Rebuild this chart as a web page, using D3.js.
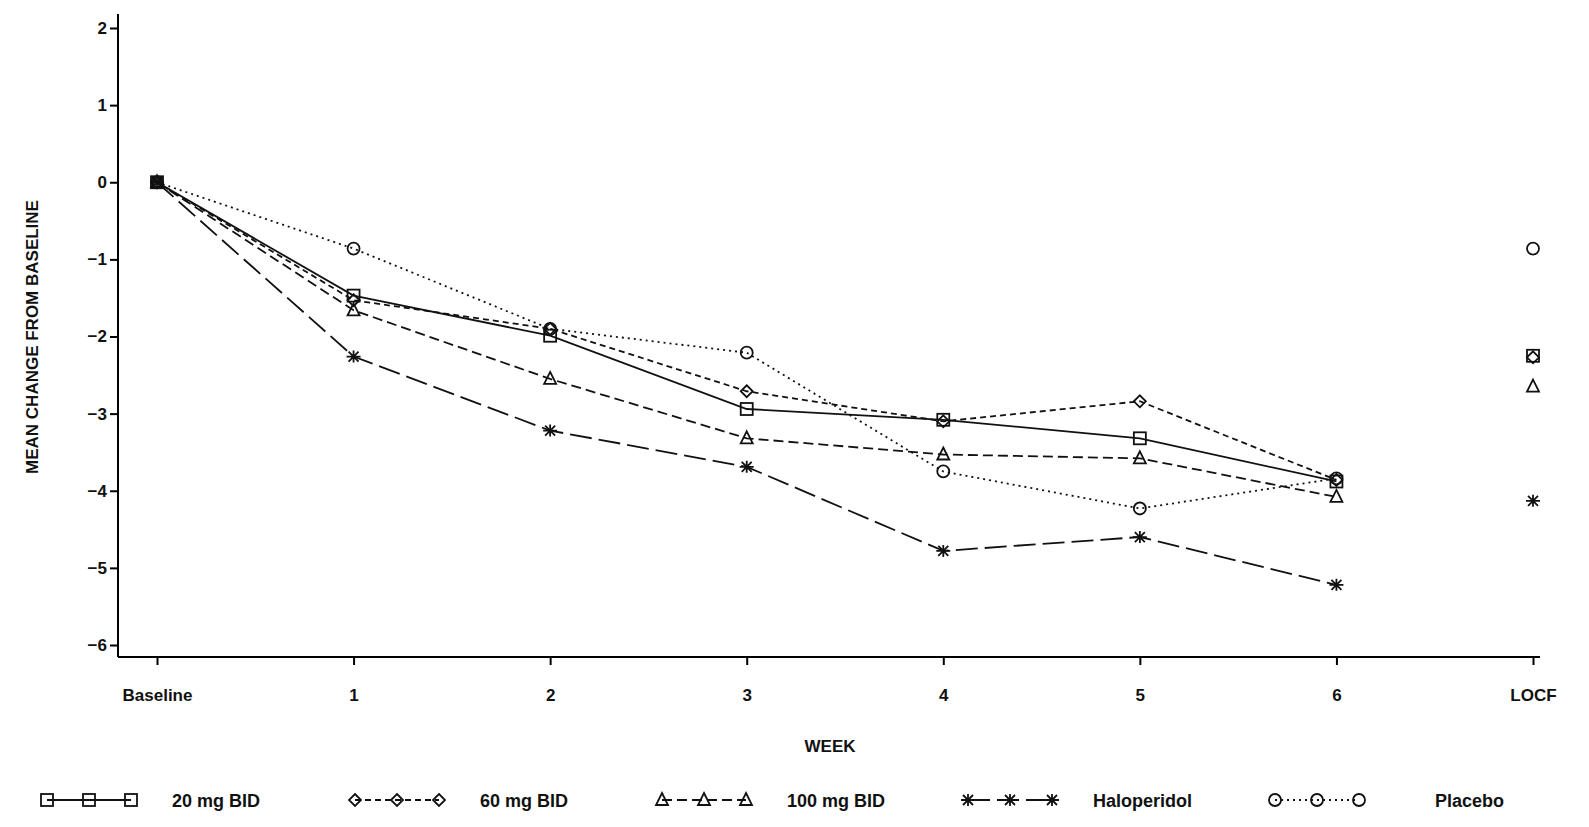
<!DOCTYPE html>
<html>
<head>
<meta charset="UTF-8">
<script src="https://d3js.org/d3.v7.min.js"></script>
<style>
  body { margin: 0; background: #fff; }
  text { font-family: "Liberation Sans", Arial, sans-serif; font-weight: bold; fill: #111; }
</style>
</head>
<body>
<svg id="chart" width="1589" height="827"></svg>
<script>
const categories = ["Baseline", "1", "2", "3", "4", "5", "6", "LOCF"];
const yTicks = [2, 1, 0, -1, -2, -3, -4, -5, -6];
const seriesNames = ["20 mg BID", "60 mg BID", "100 mg BID", "Haloperidol", "Placebo"];
const mg20 = [0, -1.47, -1.99, -2.94, -3.08, -3.32, -3.88, -2.25];
const mg60 = [0, -1.53, -1.90, -2.71, -3.10, -2.84, -3.86, -2.27];
const mg100 = [0, -1.66, -2.55, -3.32, -3.53, -3.58, -4.08, -2.65];
const halo = [0, -2.26, -3.22, -3.69, -4.78, -4.60, -5.22, -4.13];
const placebo = [0, -0.86, -1.90, -2.21, -3.75, -4.23, -3.84, -0.86];

const series = [
  { name: seriesNames[0], values: mg20, dash: null, sym: "square" },
  { name: seriesNames[1], values: mg60, dash: "6,4", sym: "diamond" },
  { name: seriesNames[2], values: mg100, dash: "10,5", sym: "triangle" },
  { name: seriesNames[3], values: halo, dash: "22,7", sym: "star" },
  { name: seriesNames[4], values: placebo, dash: "2,4", sym: "circle" }
];

const svg = d3.select("#chart");
const x = d3.scalePoint().domain(categories).range([157, 1533]);
const y = d3.scaleLinear().domain([-6, 2]).range([645, 28]);
const col = "#111";

// axes
const xAxis = svg.append("g").attr("transform", "translate(0,657)")
  .call(d3.axisBottom(x).tickSize(8).tickPadding(24));
xAxis.select(".domain").attr("d", "M118,0H1540").attr("stroke-width", 2);
const yAxis = svg.append("g").attr("transform", "translate(118,0)")
  .call(d3.axisLeft(y).tickValues(yTicks).tickSize(8).tickFormat(d => d < 0 ? "\u2212" + Math.abs(d) : d));
yAxis.select(".domain").attr("d", "M0,14V657").attr("stroke-width", 2);
svg.selectAll(".tick line").attr("stroke-width", 2);
svg.selectAll(".tick text").style("font-size", "17px");

svg.append("text").attr("x", 830).attr("y", 752).attr("text-anchor", "middle")
  .style("font-size", "17px").text("WEEK");
svg.append("text").attr("transform", "translate(38,337) rotate(-90)").attr("text-anchor", "middle")
  .style("font-size", "17px").text("MEAN CHANGE FROM BASELINE");

function marker(g, type, cx, cy) {
  const s = 6;
  if (type === "square") g.append("rect").attr("x", cx - s).attr("y", cy - s).attr("width", 2 * s).attr("height", 2 * s);
  else if (type === "circle") g.append("circle").attr("cx", cx).attr("cy", cy).attr("r", s);
  else if (type === "diamond") g.append("path").attr("d", `M${cx},${cy - s}L${cx + s},${cy}L${cx},${cy + s}L${cx - s},${cy}Z`);
  else if (type === "triangle") g.append("path").attr("d", `M${cx},${cy - s - 1}L${cx + s},${cy + s - 1}L${cx - s},${cy + s - 1}Z`);
  else if (type === "star") {
    g.append("path").attr("d", `M${cx - s - 1},${cy}H${cx + s + 1}M${cx - 5},${cy - 5}L${cx + 5},${cy + 5}M${cx - 5},${cy + 5}L${cx + 5},${cy - 5}M${cx},${cy - s}V${cy + s}`);
  }
}

const line = d3.line().x((d, i) => x(categories[i])).y(d => y(d));
series.forEach(s => {
  const g = svg.append("g").attr("fill", "none").attr("stroke", col).attr("stroke-width", 1.8);
  g.append("path").attr("d", line(s.values.slice(0, 7))).attr("stroke-dasharray", s.dash);
  s.values.forEach((v, i) => marker(g, s.sym, x(categories[i]), y(v)));
});

// legend
const legX = [47, 355, 662, 968, 1275];
series.forEach((s, i) => {
  const g = svg.append("g").attr("fill", "none").attr("stroke", col).attr("stroke-width", 1.8);
  const lx = legX[i], ly = 800;
  g.append("line").attr("x1", lx).attr("x2", lx + 84).attr("y1", ly).attr("y2", ly).attr("stroke-dasharray", s.dash);
  [0, 42, 84].forEach(o => marker(g, s.sym, lx + o, ly));
  svg.append("text").attr("x", i === 4 ? lx + 160 : lx + 125).attr("y", ly + 7)
    .style("font-size", "18px").text(s.name);
});
</script>
</body>
</html>
